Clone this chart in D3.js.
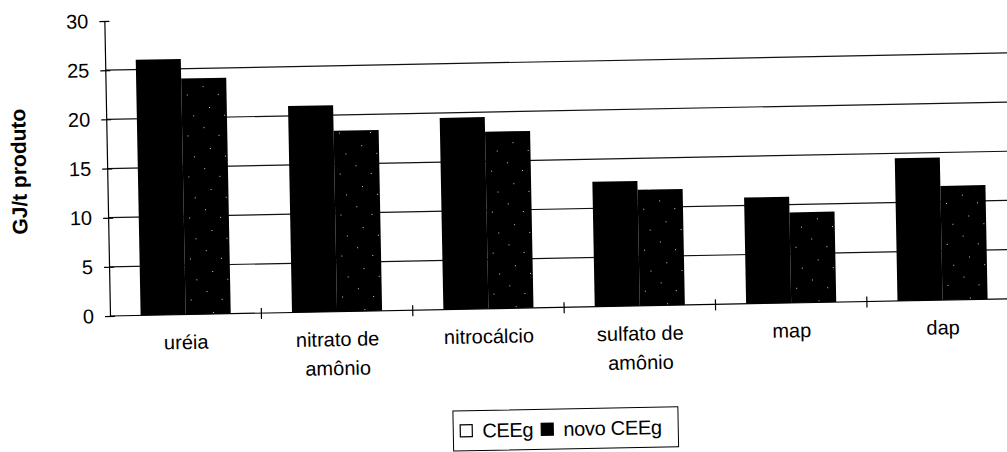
<!DOCTYPE html>
<html lang="pt">
  <head>
    <meta charset="utf-8">
    <title>CEEg</title>
    <script src="https://cdn.jsdelivr.net/npm/d3@7"></script>
    <style>
      body { margin: 0; background: #fff; }
      text { font-family: Arial, "Liberation Sans", Helvetica, sans-serif; fill: #000; }
    </style>
  </head>
  <body>
    <script>

      /*
      DATA
       */

      const categories = ["uréia", "nitrato de amônio", "nitrocálcio", "sulfato de amônio", "map", "dap"];
      const labelLines = [["uréia"], ["nitrato de", "amônio"], ["nitrocálcio"], ["sulfato de", "amônio"], ["map"], ["dap"]];
      const series = ["CEEg", "novo CEEg"];
      const ceeg = [26.0, 21.0, 19.5, 12.7, 10.8, 14.5];
      const novoCeeg = [24.0, 18.4, 18.0, 11.8, 9.2, 11.6];
      const yTicks = [0, 5, 10, 15, 20, 25, 30];
      const gridValues = [5, 10, 15, 20, 25];
      const yTitle = "GJ/t produto";

      /*
      LAYOUT
       */

      const SVG_W = 1007;
      const SVG_H = 452;
      const PLOT_LEFT = 110;
      const PLOT_BOTTOM = 316;
      const PLOT_TOP = 21;
      const BAND = 151.4;
      const PLOT_RIGHT = PLOT_LEFT + BAND * categories.length;
      const TILT = -1.1; // the scanned page is slightly rotated
      const FONT = 20;

      let svg = d3.select("body").append("svg")
        .attr("width", SVG_W)
        .attr("height", SVG_H);

      svg.append("rect").attr("width", SVG_W).attr("height", SVG_H).attr("fill", "#fff");

      // black with sparse light specks for the second series
      let pat = svg.append("defs").append("pattern")
        .attr("id", "speckle")
        .attr("patternUnits", "userSpaceOnUse")
        .attr("width", 31)
        .attr("height", 41);
      pat.append("rect").attr("width", 31).attr("height", 41).attr("fill", "#000");
      [[4, 6], [19, 14], [10, 27], [25, 35]].forEach(function(p){
        pat.append("rect").attr("x", p[0]).attr("y", p[1]).attr("width", 1).attr("height", 1).attr("fill", "#ccc");
      });

      let g = svg.append("g")
        .attr("transform", "rotate(" + TILT + "," + PLOT_LEFT + "," + PLOT_BOTTOM + ")");

      /* scales */
      let x0 = d3.scaleBand().domain(categories).range([PLOT_LEFT, PLOT_RIGHT]);
      let x1 = d3.scaleBand().domain(series).range([0, x0.bandwidth()])
        .paddingInner(0).paddingOuter(0.68);
      let y = d3.scaleLinear().domain([0, 30]).range([PLOT_BOTTOM, PLOT_TOP]);

      /* gridlines */
      g.append("g").selectAll("line").data(gridValues).join("line")
        .attr("x1", PLOT_LEFT).attr("x2", PLOT_RIGHT + 30)
        .attr("y1", d => y(d)).attr("y2", d => y(d))
        .attr("stroke", "#111")
        .attr("stroke-width", 1.2);

      /* bars */
      let rows = categories.map((c, i) => ({cat: c, values: [ceeg[i], novoCeeg[i]]}));
      g.append("g").selectAll("g").data(rows).join("g")
        .attr("transform", d => "translate(" + x0(d.cat) + ",0)")
        .selectAll("rect")
        .data(d => d.values.map((v, j) => ({s: series[j], v: v})))
        .join("rect")
        .attr("x", d => x1(d.s))
        .attr("y", d => y(d.v))
        .attr("width", x1.bandwidth())
        .attr("height", d => y(0) - y(d.v))
        .attr("fill", d => d.s === "CEEg" ? "#000" : "url(#speckle)");

      /* x axis */
      g.append("line")
        .attr("x1", PLOT_LEFT).attr("x2", PLOT_RIGHT + 30)
        .attr("y1", y(0)).attr("y2", y(0))
        .attr("stroke", "#000").attr("stroke-width", 1.2);

      g.append("g").selectAll("line").data(categories.slice(1)).join("line")
        .attr("x1", d => x0(d)).attr("x2", d => x0(d))
        .attr("y1", y(0) - 5).attr("y2", y(0) + 6)
        .attr("stroke", "#000").attr("stroke-width", 1.2);

      let labels = g.append("g").selectAll("text").data(categories).join("text")
        .attr("text-anchor", "middle")
        .attr("font-size", FONT)
        .attr("transform", d => "translate(" + (x0(d) + x0.bandwidth() / 2) + "," + (PLOT_BOTTOM + 34.5) + ")");
      labels.selectAll("tspan")
        .data((d, i) => labelLines[i])
        .join("tspan")
        .attr("x", 0)
        .attr("y", (d, k) => k * 29)
        .text(d => d);

      /* y axis */
      let yAxis = g.append("g")
        .attr("transform", "translate(" + PLOT_LEFT + ",0)")
        .call(d3.axisLeft(y).tickValues(yTicks).tickSize(5).tickSizeOuter(0).tickPadding(11));
      yAxis.select(".domain").attr("stroke-width", 1.2);
      yAxis.selectAll(".tick line").attr("x1", 5).attr("stroke-width", 1.2);
      yAxis.selectAll(".tick text")
        .attr("font-size", FONT)
        .attr("font-family", "Arial, 'Liberation Sans', sans-serif");

      g.append("text")
        .attr("transform", "translate(29,170) rotate(-90)")
        .attr("text-anchor", "middle")
        .attr("font-size", 21)
        .attr("font-weight", "bold")
        .text(yTitle);

      /* legend */
      const LEG_X = 451;
      const LEG_Y = 417.6;
      let legend = g.append("g").attr("transform", "translate(" + LEG_X + "," + LEG_Y + ")");
      legend.append("rect")
        .attr("width", 225).attr("height", 40)
        .attr("fill", "#fff").attr("stroke", "#000").attr("stroke-width", 1);
      const LEG_OFFSETS = [7, 88];
      let items = legend.selectAll("g.item").data(series).join("g")
        .attr("class", "item")
        .attr("transform", (d, i) => "translate(" + LEG_OFFSETS[i] + ",0)");
      items.append("rect")
        .attr("y", 14).attr("width", 12).attr("height", 12)
        .attr("fill", (d, i) => i === 0 ? "#fff" : "#000")
        .attr("stroke", "#000").attr("stroke-width", 1.2);
      items.append("text")
        .attr("x", 22).attr("y", 27)
        .attr("font-size", FONT)
        .attr("letter-spacing", -0.3)
        .text(d => d);

    </script>
  </body>
</html>
